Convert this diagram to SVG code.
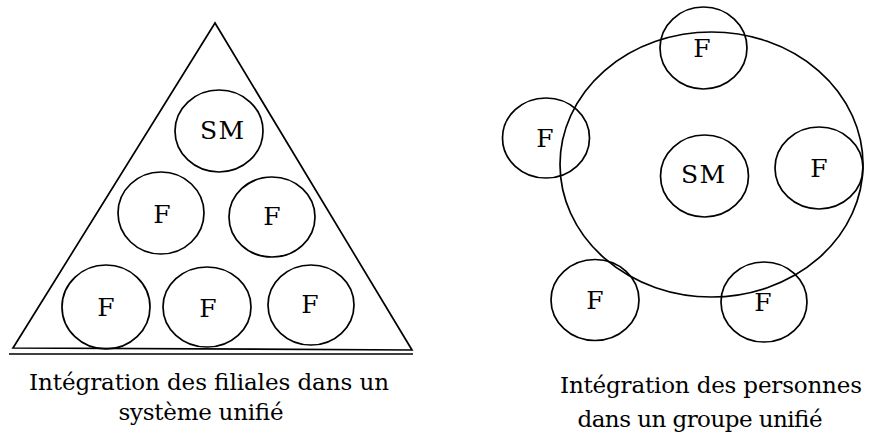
<svg xmlns="http://www.w3.org/2000/svg" width="871" height="440" viewBox="0 0 871 440">
<style>
.s{fill:none;stroke:#000;stroke-width:1.7}
.cap{font-size:23px}
.lbl{font-size:25px}
</style>
<rect width="871" height="440" fill="#fff"/>
<g font-family="DejaVu Serif, serif" text-anchor="middle" fill="#000">
<g id="left-panel">
  <g id="triangle">
    <polygon class="s" points="215,23 13,348 412,350"/>
    <line class="s" x1="9" y1="354" x2="413" y2="354"/>
  </g>
  <g id="l-sm"><ellipse class="s" cx="219" cy="131" rx="44" ry="41"/><text class="lbl" x="222" y="139" textLength="44">SM</text></g>
  <g id="l-f1"><ellipse class="s" cx="161" cy="213" rx="43" ry="41"/><text class="lbl" x="162" y="223">F</text></g>
  <g id="l-f2"><ellipse class="s" cx="272" cy="217" rx="43" ry="40"/><text class="lbl" x="272" y="225">F</text></g>
  <g id="l-f3"><ellipse class="s" cx="106" cy="307" rx="44" ry="42"/><text class="lbl" x="106" y="316">F</text></g>
  <g id="l-f4"><ellipse class="s" cx="207" cy="307" rx="44" ry="40"/><text class="lbl" x="208" y="317">F</text></g>
  <g id="l-f5"><ellipse class="s" cx="311" cy="305" rx="43" ry="40"/><text class="lbl" x="310" y="313">F</text></g>
  <g id="l-caption">
    <text class="cap" x="209" y="390" textLength="360">Intégration des filiales dans un</text>
    <text class="cap" x="201" y="420" textLength="165">système unifié</text>
  </g>
</g>
<g id="right-panel">
  <g id="group"><ellipse class="s" cx="711.5" cy="164.5" rx="151.5" ry="132.5"/></g>
  <g id="r-sm"><ellipse class="s" cx="704.5" cy="176" rx="44" ry="41"/><text class="lbl" x="703" y="183" textLength="44">SM</text></g>
  <g id="r-f-top"><ellipse class="s" cx="703.5" cy="48" rx="43.5" ry="41"/><text class="lbl" x="702" y="57">F</text></g>
  <g id="r-f-left"><ellipse class="s" cx="546" cy="138" rx="43.5" ry="40"/><text class="lbl" x="545" y="147">F</text></g>
  <g id="r-f-right"><ellipse class="s" cx="819" cy="168" rx="44" ry="41"/><text class="lbl" x="819" y="177">F</text></g>
  <g id="r-f-bl"><ellipse class="s" cx="595" cy="300" rx="44" ry="40.5"/><text class="lbl" x="595" y="309">F</text></g>
  <g id="r-f-br"><ellipse class="s" cx="764" cy="302" rx="43" ry="40"/><text class="lbl" x="763" y="311">F</text></g>
  <g id="r-caption">
    <text class="cap" x="711" y="393" textLength="302">Intégration des personnes</text>
    <text class="cap" x="700" y="427" textLength="245">dans un groupe unifié</text>
  </g>
</g>
</g>
</svg>
